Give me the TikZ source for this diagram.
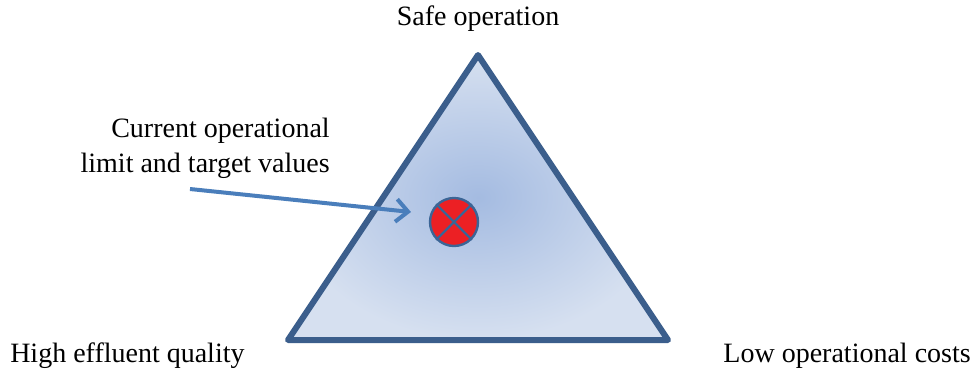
\documentclass[tikz,border=0pt]{standalone}
\usepackage{fontspec}
\setmainfont{Liberation Serif}
\usetikzlibrary{arrows.meta}

\definecolor{edgeblue}{RGB}{59,94,140}
\definecolor{arrowblue}{RGB}{74,126,187}
\definecolor{markred}{RGB}{236,32,36}

\begin{document}
\begin{tikzpicture}[x=0.75pt, y=-0.75pt,
  lbl/.style={font=\fontsize{21}{26}\selectfont, inner sep=0pt}]
\useasboundingbox (0,0) rectangle (976,369);

% triangle with soft blue shading
\shade[inner color={rgb,255:red,164;green,187;blue,225}, outer color={rgb,255:red,214;green,224;blue,240}]
  (478,55) -- (668,340) -- (288,340) -- cycle;
\draw[edgeblue, line width=4.5pt, line join=round] (478,55) -- (668,340) -- (288,340) -- cycle;

% corner labels
\node[lbl] (safe) at (478,19) {Safe operation};
\node[lbl, anchor=west] (quality) at (10,356) {High effluent quality};
\node[lbl, anchor=east] (costs) at (971,356) {Low operational costs};

% operating point
\node[circle, draw=arrowblue!80!black, line width=1.8pt, fill=markred, minimum size=48pt*0.75, inner sep=0pt] (mark) at (454,222) {};
\draw[arrowblue!80!black, line width=1.8pt] (mark.north west) -- (mark.south east);
\draw[arrowblue!80!black, line width=1.8pt] (mark.north east) -- (mark.south west);

% pointer
\node[lbl, align=right, anchor=east] (limit) at (330,148) {Current operational\\limit and target values};
\coordinate (tail) at (190,189);
\coordinate (head) at (411,212);
\draw[arrowblue, line width=3pt, -{Straight Barb[length=9pt, width=17pt, line width=3pt]}] (tail) -- (head);
\end{tikzpicture}
\end{document}
